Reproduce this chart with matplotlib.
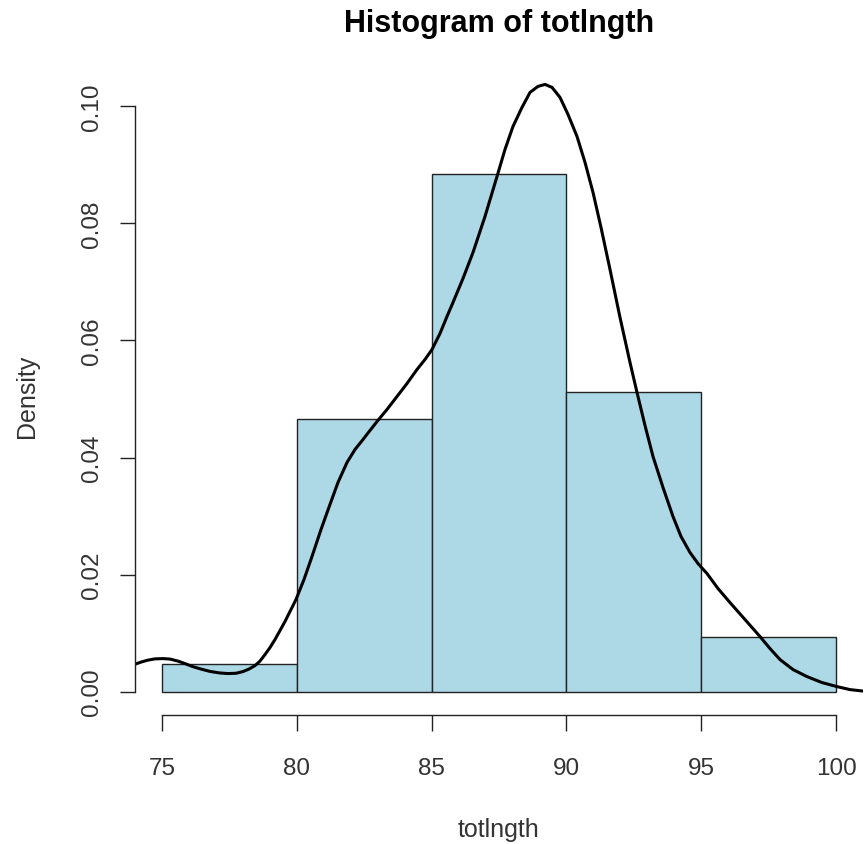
import numpy as np
import matplotlib
matplotlib.use("Agg")
import matplotlib.pyplot as plt

plt.rcParams['font.family'] = ['Liberation Sans', 'DejaVu Sans']

# histogram of totlngth (43 obs, 5 cm bins)
bin_edges = [75, 80, 85, 90, 95, 100]
bin_counts = [1, 10, 19, 11, 2]

# kernel density estimate overlaid on the histogram
dens_x = [73.961, 74.221, 74.481, 74.740, 75.037, 75.297, 75.593, 75.853, 76.113, 76.447,
          76.780, 77.114, 77.448, 77.745, 78.004, 78.227, 78.450, 78.635, 78.820, 79.006,
          79.191, 79.377, 79.562, 79.748, 79.970, 80.267, 80.564, 80.898, 81.231, 81.528,
          81.862, 82.159, 82.456, 82.715, 82.975, 83.346, 83.717, 84.088, 84.458, 84.755,
          85.015, 85.312, 85.571, 85.794, 86.165, 86.536, 86.981, 87.426, 87.723, 88.019,
          88.353, 88.650, 88.947, 89.206, 89.466, 89.763, 90.059, 90.393, 90.690, 90.987,
          91.283, 91.617, 91.988, 92.359, 92.619, 92.915, 93.212, 93.583, 93.954, 94.251,
          94.585, 94.881, 95.215, 95.623, 96.068, 96.624, 97.181, 97.552, 97.923, 98.405,
          98.924, 99.481, 100.037, 100.519, 101.001]
dens_y = [0.00462, 0.00504, 0.00538, 0.00559, 0.00564, 0.00556, 0.00521, 0.00479, 0.00431, 0.00385,
          0.00345, 0.00320, 0.00308, 0.00313, 0.00342, 0.00385, 0.00444, 0.00521, 0.00632, 0.00752,
          0.00889, 0.01043, 0.01197, 0.01368, 0.01573, 0.01915, 0.02308, 0.02769, 0.03197, 0.03573,
          0.03915, 0.04137, 0.04308, 0.04462, 0.04615, 0.04821, 0.05043, 0.05265, 0.05504, 0.05675,
          0.05846, 0.06120, 0.06410, 0.06650, 0.07060, 0.07504, 0.08120, 0.08803, 0.09265, 0.09658,
          0.09983, 0.10239, 0.10342, 0.10376, 0.10325, 0.10154, 0.09863, 0.09487, 0.09043, 0.08530,
          0.07932, 0.07214, 0.06393, 0.05624, 0.05111, 0.04547, 0.04017, 0.03487, 0.02991, 0.02650,
          0.02376, 0.02188, 0.02017, 0.01761, 0.01521, 0.01231, 0.00940, 0.00735, 0.00547, 0.00376,
          0.00256, 0.00154, 0.00085, 0.00034, 0.00009]

x_ticks = [75, 80, 85, 90, 95, 100]
y_ticks = [0.00, 0.02, 0.04, 0.06, 0.08, 0.10]

W, H = 867, 845
fig = plt.figure(figsize=(W / 100, H / 100), dpi=100)
ax = fig.add_axes([135 / W, (H - 716) / H, 728 / W, 632 / H])

mids = [(a + b) / 2 for a, b in zip(bin_edges[:-1], bin_edges[1:])]
ax.hist(mids, bins=bin_edges, weights=bin_counts, density=True,
        color='#ADD8E6', edgecolor='#222222', linewidth=1.0)
ax.plot(dens_x, dens_y, color='black', lw=2.2,
        solid_capstyle='round', solid_joinstyle='round')

ax.set_xlim(74, 101)
ax.set_ylim(-0.004, 0.104)

for s in ['top', 'right']:
    ax.spines[s].set_visible(False)
ax.spines['left'].set_bounds(0, 0.10)
ax.spines['bottom'].set_bounds(75, 100)
for s in ['left', 'bottom']:
    ax.spines[s].set_linewidth(1.0)
    ax.spines[s].set_color('#222222')

ax.set_xticks(x_ticks)
ax.set_xticklabels([str(t) for t in x_ticks])
ax.set_yticks(y_ticks)
ax.set_yticklabels(['%.2f' % t for t in y_ticks], rotation=90, va='center')
ax.tick_params(axis='x', length=11.5, width=1.0, color='#222222', pad=19,
               labelsize=17.5, labelcolor='#333333')
ax.tick_params(axis='y', length=11, width=1.0, color='#222222', pad=12,
               labelsize=17.5, labelcolor='#333333')

ax.set_xlabel('totlngth', fontsize=18, color='#333333', va='center')
ax.xaxis.set_label_coords(0.5, -0.180)
ax.set_ylabel('Density', fontsize=18, color='#333333', va='center')
ax.yaxis.set_label_coords(-0.148, 0.505)

ax.set_title('Histogram of totlngth', fontsize=22, fontweight='bold',
             y=1.095, pad=0, va='center')

fig.savefig('out.png', dpi=100)
